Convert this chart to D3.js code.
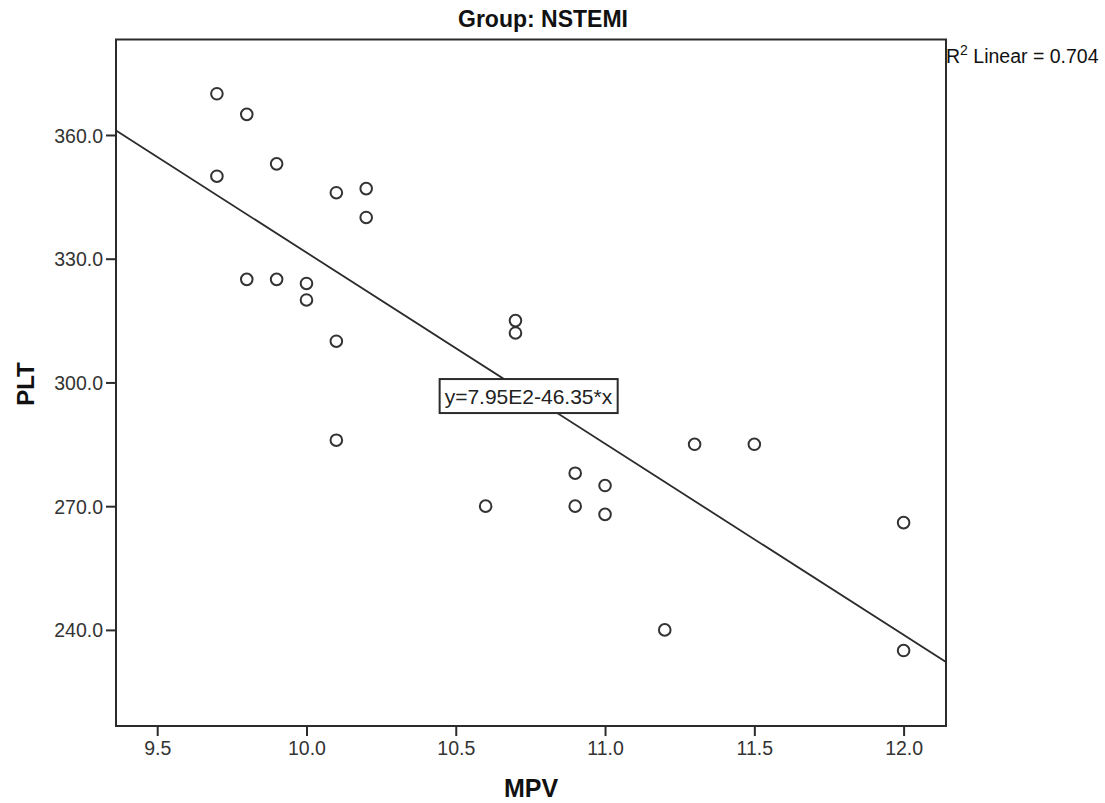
<!DOCTYPE html>
<html>
<head>
<meta charset="utf-8">
<script src="https://cdn.jsdelivr.net/npm/d3@7"></script>
<style>
  body { margin: 0; background: #fff; }
  svg { display: block; font-family: Arial, "Liberation Sans", sans-serif; }
</style>
</head>
<body>
<div id="wrapper"></div>
<script>
/* DATA */
const mpv = [9.7, 9.8, 9.7, 9.9, 10.1, 10.2, 10.2, 9.8, 9.9, 10.0, 10.0, 10.1, 10.1,
  10.7, 10.7, 10.6, 10.9, 10.9, 11.0, 11.0, 11.3, 11.5, 11.2, 12.0, 12.0];
const plt = [370, 365, 350, 353, 346, 347, 340, 325, 325, 324, 320, 310, 286,
  315, 312, 270, 278, 270, 275, 268, 285, 285, 240, 266, 235];
const xTicks = [9.5, 10.0, 10.5, 11.0, 11.5, 12.0];
const yTicks = [240, 270, 300, 330, 360];
const fitIntercept = 795;
const fitSlope = -46.35;
const rSquared = 0.704;

function drawScatter() {
  const dimensions = {
    width: 1105,
    height: 803,
    margin: { top: 39.5, right: 159, bottom: 77, left: 116 },
  };
  dimensions.boundedWidth =
    dimensions.width - (dimensions.margin.left + dimensions.margin.right);
  dimensions.boundedHeight =
    dimensions.height - (dimensions.margin.top + dimensions.margin.bottom);

  const dataset = mpv.map((d, i) => ({ mpv: d, plt: plt[i] }));
  const xAccessor = d => d.mpv;
  const yAccessor = d => d.plt;

  /* SCALES */
  const xScale = d3.scaleLinear()
    .domain([9.362, 12.142])
    .range([0, dimensions.boundedWidth]);
  const yScale = d3.scaleLinear()
    .domain([216.7, 383.15])
    .range([dimensions.boundedHeight, 0]);

  const wrapper = d3.select('#wrapper')
    .append('svg')
    .attr('width', dimensions.width)
    .attr('height', dimensions.height);

  const bounds = wrapper.append('g')
    .attr('transform', `translate(${dimensions.margin.left},${dimensions.margin.top})`);

  const ink = '#2b2b2b';

  /* PERIPHERALS */
  const xAxis = bounds.append('g')
    .attr('transform', `translate(0,${dimensions.boundedHeight})`)
    .call(d3.axisBottom(xScale).tickValues(xTicks).tickFormat(d3.format('.1f'))
      .tickSize(10).tickPadding(5));
  const yAxis = bounds.append('g')
    .call(d3.axisLeft(yScale).tickValues(yTicks).tickFormat(d3.format('.1f'))
      .tickSize(10).tickPadding(3));

  [xAxis, yAxis].forEach(ax => {
    ax.select('.domain').remove();
    ax.selectAll('.tick line').attr('stroke', ink).attr('stroke-width', 2);
    ax.selectAll('.tick text')
      .attr('fill', '#333')
      .style('font-size', '19.5px')
      .style('font-family', 'Arial, "Liberation Sans", sans-serif');
  });
  yAxis.selectAll('.tick text').attr('dy', '0.36em');

  // frame
  bounds.append('rect')
    .attr('width', dimensions.boundedWidth)
    .attr('height', dimensions.boundedHeight)
    .attr('fill', 'none')
    .attr('stroke', ink)
    .attr('stroke-width', 2);

  /* FIT LINE */
  const [x0, x1] = xScale.domain();
  bounds.append('line')
    .attr('x1', xScale(x0))
    .attr('x2', xScale(x1))
    .attr('y1', yScale(fitIntercept + fitSlope * x0))
    .attr('y2', yScale(fitIntercept + fitSlope * x1))
    .attr('stroke', ink)
    .attr('stroke-width', 1.8);

  /* POINTS */
  bounds.append('g')
    .selectAll('circle')
    .data(dataset)
    .join('circle')
    .attr('cx', d => xScale(xAccessor(d)))
    .attr('cy', d => yScale(yAccessor(d)))
    .attr('r', 5.8)
    .attr('fill', 'none')
    .attr('stroke', '#333')
    .attr('stroke-width', 2);

  /* EQUATION LABEL */
  const eqGroup = bounds.append('g')
    .attr('transform', `translate(${xScale(10.446)},${yScale(296.7)})`);
  const eqText = eqGroup.append('text')
    .attr('x', 5)
    .attr('y', 0)
    .attr('dy', '0.36em')
    .attr('fill', '#222')
    .style('font-size', '21px')
    .text(`y=7.95E2${fitSlope}*x`);
  const bb = eqText.node().getBBox();
  eqGroup.insert('rect', 'text')
    .attr('x', 0)
    .attr('y', -17)
    .attr('width', bb.width + 10)
    .attr('height', 34)
    .attr('fill', '#fff')
    .attr('stroke', ink)
    .attr('stroke-width', 2);

  /* TEXTS */
  wrapper.append('text')
    .attr('x', 543)
    .attr('y', 27)
    .attr('text-anchor', 'middle')
    .attr('fill', '#111')
    .style('font-size', '23px')
    .style('font-weight', 'bold')
    .text('Group: NSTEMI');

  const r2 = wrapper.append('text')
    .attr('x', dimensions.margin.left + dimensions.boundedWidth)
    .attr('y', 63)
    .attr('fill', '#111')
    .style('font-size', '19.5px');
  r2.append('tspan').text('R');
  r2.append('tspan').attr('dy', -8).style('font-size', '14px').text('2');
  r2.append('tspan').attr('dy', 8).text(` Linear = ${rSquared}`);

  wrapper.append('text')
    .attr('x', 531)
    .attr('y', 797)
    .attr('text-anchor', 'middle')
    .attr('fill', '#111')
    .style('font-size', '25px')
    .style('font-weight', 'bold')
    .text('MPV');

  wrapper.append('text')
    .attr('transform', 'translate(34,384) rotate(-90)')
    .attr('text-anchor', 'middle')
    .attr('fill', '#111')
    .style('font-size', '24px')
    .style('font-weight', 'bold')
    .text('PLT');
}

drawScatter();
</script>
</body>
</html>
